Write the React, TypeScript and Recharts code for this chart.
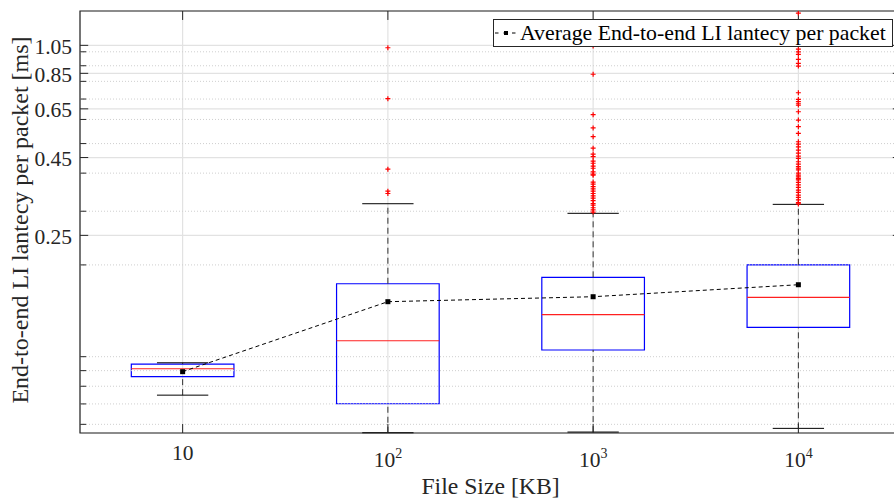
import {
  ComposedChart,
  XAxis,
  YAxis,
  CartesianGrid,
  Line,
  Scatter,
  ReferenceArea,
  ReferenceLine,
  Legend,
} from 'recharts';

const FONT = '"Liberation Serif", "Times New Roman", serif';
const INK = '#262626';

// file sizes are 10^n KB, one box per size
const positions = [1, 2, 3, 4];
const sizeExponents = [1, 2, 3, 4];

// latency statistics per file size [ms]
const q1 = [0.086, 0.0701, 0.1052, 0.1248];
const median = [0.0913, 0.1128, 0.1373, 0.1566];
const q3 = [0.0946, 0.1735, 0.1821, 0.2002];
const whiskerLow = [0.0748, 0.0563, 0.0566, 0.0582];
const whiskerHigh = [0.0955, 0.3175, 0.2953, 0.316];
const means = [0.0893, 0.1515, 0.1573, 0.1722];

const outliers10: number[] = [];
const outliers100 = [1.031, 0.702, 0.412, 0.349, 0.343];
const outliers1000 = [
  1.044, 0.844, 0.622, 0.563, 0.527, 0.483, 0.462, 0.453, 0.438, 0.431, 0.422, 0.415, 0.404,
  0.397, 0.394, 0.374, 0.368, 0.361, 0.355, 0.349, 0.343, 0.337, 0.331, 0.325, 0.318, 0.314,
  0.308, 0.303, 0.298,
];
const outliers10000 = [
  1.34, 1.021, 1.0, 0.981, 0.945, 0.917, 0.898, 0.734, 0.698, 0.687, 0.678, 0.669, 0.636, 0.597,
  0.568, 0.54, 0.507, 0.498, 0.488, 0.476, 0.465, 0.455, 0.447, 0.436, 0.428, 0.42, 0.415, 0.41,
  0.4, 0.394, 0.389, 0.384, 0.38, 0.373, 0.366, 0.359, 0.352, 0.346, 0.339, 0.333, 0.327, 0.32,
  0.317,
];
const outlierGroups = [outliers10, outliers100, outliers1000, outliers10000];

const yTicks = [0.25, 0.45, 0.65, 0.85, 1.05];
const yMinorTicks = [0.06, 0.07, 0.08, 0.09, 0.1, 0.2, 0.3, 0.4, 0.5, 0.6, 0.7, 0.8, 0.9, 1.0];

const Y_MIN = 0.0562;
const Y_MAX = 1.361;
const X_MIN = 0.5;
const X_MAX = 4.5;

const meanData = positions.map((x, i) => ({ x, mean: means[i] }));
const outlierPts = outlierGroups.flatMap((g, i) => g.map((y) => ({ x: positions[i], y })));

const BOX_HALF = 0.25;
const CAP_HALF = 0.125;

function SizeTick({ x, y, payload }: any) {
  const exp = sizeExponents[positions.indexOf(payload.value)];
  if (exp === 1) {
    return (
      <text x={x} y={y + 27} textAnchor="middle" fontFamily={FONT} fontSize={21.5} fill={INK}>
        10
      </text>
    );
  }
  return (
    <text x={x} y={y + 34} textAnchor="middle" fontFamily={FONT} fontSize={21.5} fill={INK}>
      10
      <tspan dy={-9} fontSize={14}>
        {exp}
      </tspan>
    </text>
  );
}

function LatencyTick({ x, y, payload }: any) {
  return (
    <text x={x - 8} y={y + 8.5} textAnchor="end" fontFamily={FONT} fontSize={21.5} fill={INK}>
      {payload.value.toFixed(2)}
    </text>
  );
}

const PlusMark = ({ cx, cy }: any) => (
  <path d={`M${cx - 2.5},${cy}h5M${cx},${cy - 2.5}v5`} stroke="#ff0000" strokeWidth={1.2} />
);

const SquareDot = ({ cx, cy, index }: any) => (
  <rect key={index} x={cx - 2.5} y={cy - 2.5} width={5} height={5} fill="#000" />
);

function MeanLegend() {
  return (
    <svg width={400} height={28}>
      <rect x={0.5} y={0.5} width={399} height={27} fill="#fff" stroke={INK} />
      <line x1={2} x2={25} y1={14} y2={14} stroke="#000" strokeDasharray="3.5 5" />
      <rect x={11} y={12} width={4} height={4} fill="#000" />
      <text x={27} y={20.5} fontFamily={FONT} fontSize={21.8} fill="#000">
        Average End-to-end LI lantecy per packet
      </text>
    </svg>
  );
}

export default function App() {
  return (
    <div
      style={{
        position: 'absolute',
        left: 0,
        top: 0,
        width: 894,
        height: 502,
        overflow: 'hidden',
        background: '#fff',
      }}
    >
      <ComposedChart
        width={910}
        height={502}
        data={meanData}
        margin={{ top: 11, right: 9, bottom: 0, left: 0 }}
      >
        <CartesianGrid stroke="#e2e2e2" strokeWidth={1.2} />
        {yMinorTicks.map((v) => (
          <ReferenceLine key={`mg${v}`} y={v} stroke="#cfcfcf" strokeDasharray="1 2" />
        ))}
        <XAxis
          type="number"
          dataKey="x"
          domain={[X_MIN, X_MAX]}
          ticks={positions}
          allowDataOverflow
          axisLine={false}
          tickLine={false}
          tickSize={0}
          tickMargin={0}
          height={69}
          tick={<SizeTick />}
          label={{
            content: ({ viewBox }: any) => (
              <text
                x={viewBox.x + viewBox.width / 2}
                y={viewBox.y + 61}
                textAnchor="middle"
                fontFamily={FONT}
                fontSize={23.7}
                fill={INK}
              >
                File Size [KB]
              </text>
            ),
          }}
        />
        <YAxis
          scale="log"
          domain={[Y_MIN, Y_MAX]}
          ticks={yTicks}
          allowDataOverflow
          axisLine={false}
          tickLine={false}
          tickSize={0}
          tickMargin={0}
          width={80}
          tick={<LatencyTick />}
          label={{
            content: ({ viewBox }: any) => {
              const cx = viewBox.x + 28;
              const cy = viewBox.y + viewBox.height / 2 - 2;
              return (
                <text
                  x={cx}
                  y={cy}
                  transform={`rotate(-90, ${cx}, ${cy})`}
                  textAnchor="middle"
                  fontFamily={FONT}
                  fontSize={24}
                  fill={INK}
                >
                  End-to-end LI lantecy per packet [ms]
                </text>
              );
            },
          }}
        />

        {positions.map((x, i) => (
          <ReferenceLine
            key={`wl${x}`}
            segment={[
              { x, y: whiskerLow[i] },
              { x, y: q1[i] },
            ]}
            stroke="#333"
            strokeDasharray="6 4"
          />
        ))}
        {positions.map((x, i) => (
          <ReferenceLine
            key={`wh${x}`}
            segment={[
              { x, y: q3[i] },
              { x, y: whiskerHigh[i] },
            ]}
            stroke="#333"
            strokeDasharray="6 4"
          />
        ))}
        {positions.map((x, i) => (
          <ReferenceLine
            key={`cl${x}`}
            segment={[
              { x: x - CAP_HALF, y: whiskerLow[i] },
              { x: x + CAP_HALF, y: whiskerLow[i] },
            ]}
            stroke="#000"
          />
        ))}
        {positions.map((x, i) => (
          <ReferenceLine
            key={`ch${x}`}
            segment={[
              { x: x - CAP_HALF, y: whiskerHigh[i] },
              { x: x + CAP_HALF, y: whiskerHigh[i] },
            ]}
            stroke="#000"
          />
        ))}
        {positions.map((x, i) => (
          <ReferenceArea
            key={`box${x}`}
            x1={x - BOX_HALF}
            x2={x + BOX_HALF}
            y1={q1[i]}
            y2={q3[i]}
            fill="none"
            fillOpacity={0}
            stroke="#0000ff"
            strokeWidth={1.2}
          />
        ))}
        {positions.map((x, i) => (
          <ReferenceLine
            key={`med${x}`}
            segment={[
              { x: x - BOX_HALF, y: median[i] },
              { x: x + BOX_HALF, y: median[i] },
            ]}
            stroke="#ff2020"
            strokeWidth={1.2}
          />
        ))}

        <Scatter
          data={outlierPts}
          dataKey="y"
          shape={<PlusMark />}
          legendType="none"
          isAnimationActive={false}
        />
        <Line
          dataKey="mean"
          name="Average End-to-end LI lantecy per packet"
          stroke="#000"
          strokeWidth={1}
          strokeDasharray="4 3"
          dot={<SquareDot />}
          activeDot={false}
          isAnimationActive={false}
        />

        {/* axes box and inward tick marks */}
        <ReferenceArea
          x1={X_MIN}
          x2={X_MAX}
          y1={Y_MIN}
          y2={Y_MAX}
          fill="none"
          fillOpacity={0}
          stroke={INK}
          strokeWidth={1.2}
          ifOverflow="visible"
        />
        {yTicks.map((v) => (
          <ReferenceLine
            key={`tl${v}`}
            segment={[
              { x: X_MIN, y: v },
              { x: X_MIN + 0.04, y: v },
            ]}
            stroke={INK}
            ifOverflow="visible"
          />
        ))}
        {yTicks.map((v) => (
          <ReferenceLine
            key={`tr${v}`}
            segment={[
              { x: X_MAX - 0.04, y: v },
              { x: X_MAX, y: v },
            ]}
            stroke={INK}
            ifOverflow="visible"
          />
        ))}
        {yMinorTicks.map((v) => (
          <ReferenceLine
            key={`ml${v}`}
            segment={[
              { x: X_MIN, y: v },
              { x: X_MIN + 0.03, y: v },
            ]}
            stroke={INK}
            ifOverflow="visible"
          />
        ))}
        {yMinorTicks.map((v) => (
          <ReferenceLine
            key={`mr${v}`}
            segment={[
              { x: X_MAX - 0.03, y: v },
              { x: X_MAX, y: v },
            ]}
            stroke={INK}
            ifOverflow="visible"
          />
        ))}
        {positions.map((x) => (
          <ReferenceLine
            key={`tb${x}`}
            segment={[
              { x, y: Y_MIN },
              { x, y: Y_MIN * 1.07 },
            ]}
            stroke={INK}
            ifOverflow="visible"
          />
        ))}
        {positions.map((x) => (
          <ReferenceLine
            key={`tt${x}`}
            segment={[
              { x, y: Y_MAX / 1.07 },
              { x, y: Y_MAX },
            ]}
            stroke={INK}
            ifOverflow="visible"
          />
        ))}

        <Legend
          layout="vertical"
          verticalAlign="middle"
          align="center"
          content={<MeanLegend />}
          wrapperStyle={{ left: 493, top: 19, width: 400, height: 28 }}
        />
      </ComposedChart>
    </div>
  );
}
